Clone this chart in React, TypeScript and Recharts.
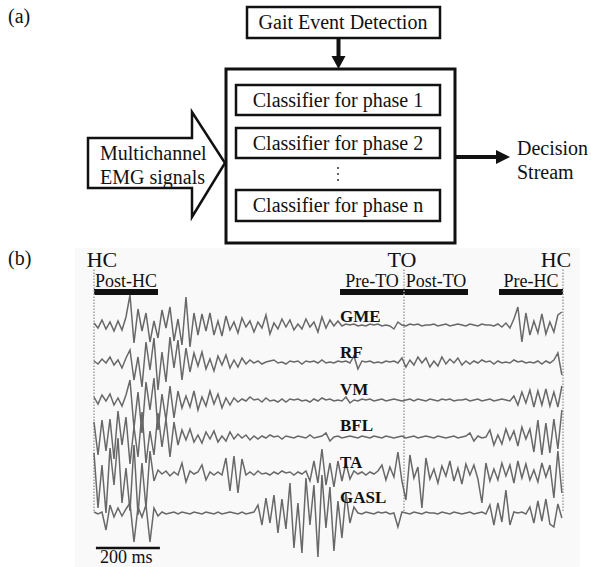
import { LineChart, Line, XAxis, YAxis, ReferenceLine, ReferenceArea } from 'recharts';

// EMG amplitudes, one sample every STEP_MS (positive = up)
const STEP_MS = 12.5;

const gme = [
  2, -3, 5, -4, 3, -6, 4, -5, 8, 30,
  -18,
  16, -6, 12, -17, 4, -13,
  15, -3, 18, -16, 6, -20, 28, -22, 12,
  -10, 11, -6, 12, -10, 4, -11, 9,
  -5, 3, -8, 7, -2, 4, -7, 3,
  -3, 10, -9, 2, -4, 6, -2, 5, -5, 1,
  -4, 6, -2, 3, -7, 8, -3, 5, -1, 4,
  -1, 1, 0, 1, -1, 0, -1, 1, 0, 1, -1, 0, -1, -4, 3,
  0, -1, 1, 0, 1, -1, 0, 0, 1, -1, 0, 1, -1, 0, 1, 0, -1, 1, 0, -1, 1, 0, 0, -1,
  1, -2, 2, -3, 6, 18, -17, 12, -10, 4, -8, 11, -9, 3, -7, 10, 13,
];

const rf = [
  1, -2, 3, -1, 5, -3, 2, -6, 4,
  12, -18, 5, -25, 20, -8, 24, -28, 10, -20, 25, -6, 22, -18, 14,
  -10, 9, -4, 10, -7, 3, -9, 6, -3, 7, -6, 2, -5, 4, -2,
  2, -1, 1, -2, 0, 1, 2, -1, 0, -2, 1, 0, 1, -2, 1, 0, 1, -1, 2, -1, 0, -1, 1, 0, 1, -1,
  6, -7,
  1, 0, 1, -1, 0, -1, 1, 0, 1, -1,
  4, -5, 2, -3, 5, -1, 4, -5, 1, -4, 5, -2, 3, -1, 4, -3, 1, -2,
  1, -1, 2, 0, 1, -2, 1, -1, 0, -1, 2, 0, 1, -1, 0, -1, 1, -2, 1, -1, 2,
  9, -13,
];

const vm = [
  3, -4, 5, -1, 6, -5, 2, -6, 5,
  20, -28, 8, -33, 18, -10, 22, -30, 6, -20, 14, -18,
  9, -8, 4, -7, 9, -10, 3, -6, 9, -4, 6, -8, 2, -5,
  2, -2, 1, -1, 3, 0, 1, -2, 2, -1, 0, -2, 1, -2, 1, 0, 1, -1, 0, -2, 1, -1, 2, 0, 1, -1, 0, -1,
  3, -3,
  0, -1, 1, 0, 1, -1, 0, 1, -1, 0,
  1, 0, -1, 0, 1, -1, 1, 0, -1, 1,
  0, -1, 1, 0, 1, -1, 0, 0, 1, -1,
  0, 1, -1, 0, 1, -1, 0, 1, 0, -1,
  4, -5, 8, -3, 10, -7, 9, -5, 11, -6, 8, -7, 14,
];

const bfl = [
  15, -18, 17, -14, 18,
  -22, 26, -8, 20, -27, 10, -20, 25, -26, 6, -18, 24, -10, 18, -20, 15,
  -8, 7, -3, 8, -5, 2, -6, 5, -2, 6, -5, 1, -4, 5, -2, 3, -1, 2, -3, 1, -2,
  1, -1, 2, 0, 1, -2, 1, 0, -1, 1, 0, -1, 2, -1, 0, 1,
  4, -4,
  0, 1, -1, 0, 1, 0, -1, 1, 0, -1,
  1, 0, -1, 1, 0, -1, 0, 1, -1, 0,
  1, -1, 0, 1, 0, -1, 1, 0, -1, 0,
  1, -1, 0, 1,
  4, -4,
  1, -1, 0,
  7, -8, 2, -7, 8, -3,
  6, -9, 10, -2, 8,
  -15, 17, -18, 14, -16, 18, -12, 27,
];

const ta = [
  20, -35, 8, -40, 25, -12, 35, -30, 5, -38, 28, -42, 10, -35, 22, -8,
  3, -1, 2, -3, 1, -2,
  10, -9,
  2, -1, 1,
  8, -7,
  1, -2, 1, -2,
  15, -18, 17, -20, 14,
  -2, 1, -2, 2, -1, 0, -2, 1, -1, 2, 0, 1, -2, 1, -1, 2,
  -8, 12, -10, 24, -12, 10, -14, 12, -8, 10, -6,
  2, -1, 1, -2, 1, -1, 2,
  8, -7, 6,
  -4, 21,
  -8, -27, 18,
  -5, 6,
  -35, 15,
  -6, 4, -10, 7, -3, 12, -8, 5, -11, 9, -2, 8, -6,
  -30, 10,
  -8, 4, -7, 10, -3, 8, -10, 12, -5, 9, -7, 3, -9, 10, -4, 8,
  -25, 22, -20,
];

const gasl = [
  1, -1, 1,
  -17, 8,
  -4, 5, -3, 4,
  10, -29,
  6, -4,
  8, -29,
  5, -3,
  1, -1, 0, 1, -1, 1, 0, -1, 1, 0, -1, 1, 0, -1, 1, -1, 0, 1, 0, -1, 1, -1, 0, 1,
  8, -12, 15, -10, 18, -20, 14, -16,
  30, -35, 10, -40, 35, -12, 28, -44, 38, -15, 26, -38, 12, -25, 20,
  -10, 6,
  0, -1, 1, 0, -1, 1, 0, 1, -1, 0,
  -14,
  1, 0, -1, 1, 0, -1, 1, 0, 0, -1, 1, 0, -1, 1, 0, -1, 0, 1, -1, 0, 1, -1,
  8, -12, 10, -9, 23,
  -12,
  1, 0, 1, -1,
  6, -10, 12, -8, 14, -11, -14, 9, -5,
];

const channelNames = ['GME', 'RF', 'VM', 'BFL', 'TA', 'GASL'];
const channelValues = [gme, rf, vm, bfl, ta, gasl];

// gait events (ms) and the 200 ms analysis windows
const eventLabels = ['HC', 'TO', 'HC'];
const eventTimes = [0, 969, 1466];
const phaseLabels = ['Post-HC', 'Pre-TO', 'Post-TO', 'Pre-HC'];
const phaseStarts = [0, 769, 969, 1266];
const WINDOW_MS = 200;

const SERIF = '"Liberation Serif", "Times New Roman", serif';
const TRACE = '#686868';

// chart geometry: plot area x 94..563, y 250..560, y units = px from bottom
const PLOT = { left: 94, right: 563, top: 250, bottom: 560 };
const Y_MAX = PLOT.bottom - PLOT.top;
const T_MAX = 1466;
const baselines = [235, 198, 160, 123, 87, 47];
const labelY = [322, 358, 395, 431, 468, 503];

const rows = gme.map((_, i) => {
  const row: Record<string, number> = { t: i * STEP_MS };
  channelNames.forEach((name, c) => {
    row[name] = baselines[c] + channelValues[c][i];
  });
  return row;
});

function Diagram() {
  const txt = { fontFamily: SERIF, fontSize: 20, fill: '#111' };
  return (
    <svg width={591} height={567} style={{ position: 'absolute', left: 0, top: 0 }}>
      <rect x={75} y={248} width={505} height={319} fill="#f9f9f9" />
      <text x={8} y={23} {...txt}>(a)</text>
      <text x={8} y={265} {...txt}>(b)</text>

      <rect x={247} y={7} width={193} height={31} fill="#fff" stroke="#111" strokeWidth={2.5} />
      <text x={343} y={29} textAnchor="middle" {...txt}>Gait Event Detection</text>
      <line x1={338.5} y1={38} x2={338.5} y2={57} stroke="#111" strokeWidth={4} />
      <polygon points="331.5,56 345.5,56 338.5,69" fill="#111" />

      <rect x={226} y={69} width={229} height={174} fill="#fff" stroke="#111" strokeWidth={3} />
      <rect x={236} y={85} width={204} height={30} fill="#fff" stroke="#111" strokeWidth={2.5} />
      <text x={338} y={107} textAnchor="middle" {...txt}>Classifier for phase 1</text>
      <rect x={236} y={128} width={204} height={30} fill="#fff" stroke="#111" strokeWidth={2.5} />
      <text x={338} y={150} textAnchor="middle" {...txt}>Classifier for phase 2</text>
      <circle cx={338} cy={168} r={1} fill="#333" />
      <circle cx={338} cy={174} r={1} fill="#333" />
      <circle cx={338} cy={180} r={1} fill="#333" />
      <rect x={236} y={190} width={204} height={31} fill="#fff" stroke="#111" strokeWidth={2.5} />
      <text x={338} y={212} textAnchor="middle" {...txt}>Classifier for phase n</text>

      <polygon
        points="88,138 192,138 192,112 225,163 192,217 192,188 88,188"
        fill="#fff"
        stroke="#111"
        strokeWidth={2.5}
        strokeLinejoin="miter"
      />
      <text x={100} y={160} {...txt}>Multichannel</text>
      <text x={100} y={184} {...txt}>EMG signals</text>

      <line x1={455} y1={157} x2={498} y2={157} stroke="#111" strokeWidth={4} />
      <polygon points="496,150 510,157 496,164" fill="#111" />
      <text x={517} y={155} {...txt}>Decision</text>
      <text x={517} y={179} {...txt}>Stream</text>

      <text x={102} y={267} textAnchor="middle" fontFamily={SERIF} fontSize={22} fill="#111">{eventLabels[0]}</text>
      <text x={402} y={267} textAnchor="middle" fontFamily={SERIF} fontSize={22} fill="#111">{eventLabels[1]}</text>
      <text x={556} y={267} textAnchor="middle" fontFamily={SERIF} fontSize={22} fill="#111">{eventLabels[2]}</text>
      <text x={100} y={563} fontFamily={SERIF} fontSize={18} fill="#111">200 ms</text>
    </svg>
  );
}

function ChannelLabels() {
  return (
    <svg width={591} height={567} style={{ position: 'absolute', left: 0, top: 0, pointerEvents: 'none' }}>
      {channelNames.map((name, c) => (
        <text key={name} x={340} y={labelY[c]} fontFamily={SERIF} fontSize={17} fontWeight="bold" fill="#111">
          {name}
        </text>
      ))}
    </svg>
  );
}

export default function App() {
  return (
    <div style={{ position: 'absolute', left: 0, top: 0, width: 591, height: 567, background: '#fff' }}>
      <Diagram />
      <div style={{ position: 'absolute', left: 0, top: 0 }}>
        <LineChart
          width={591}
          height={567}
          data={rows}
          margin={{ top: PLOT.top, right: 591 - PLOT.right, bottom: 567 - PLOT.bottom, left: PLOT.left }}
        >
          <XAxis type="number" dataKey="t" domain={[0, T_MAX]} hide />
          <YAxis type="number" domain={[0, Y_MAX]} hide />
          {eventTimes.map((t, k) => (
            <ReferenceLine
              key={`ev-${k}`}
              segment={[{ x: t, y: 49 }, { x: t, y: 292 }]}
              stroke="#a0a0a0"
              strokeWidth={1.5}
              strokeDasharray="1.5 1.5"
            />
          ))}
          {phaseStarts.map((t, k) => (
            <ReferenceArea
              key={`ph-${k}`}
              x1={t}
              x2={t + WINDOW_MS}
              y1={265}
              y2={271}
              fill="#111"
              fillOpacity={1}
              stroke="none"
              label={{ value: phaseLabels[k], position: 'top', offset: 2, fill: '#111', fontSize: 18, fontFamily: SERIF }}
            />
          ))}
          <ReferenceLine segment={[{ x: 6, y: 12 }, { x: 6 + WINDOW_MS, y: 12 }]} stroke="#111" strokeWidth={2.5} />
          {channelNames.map((name) => (
            <Line
              key={name}
              type="linear"
              dataKey={name}
              stroke={TRACE}
              strokeWidth={1.5}
              dot={false}
              activeDot={false}
              isAnimationActive={false}
            />
          ))}
        </LineChart>
      </div>
      <ChannelLabels />
    </div>
  );
}
